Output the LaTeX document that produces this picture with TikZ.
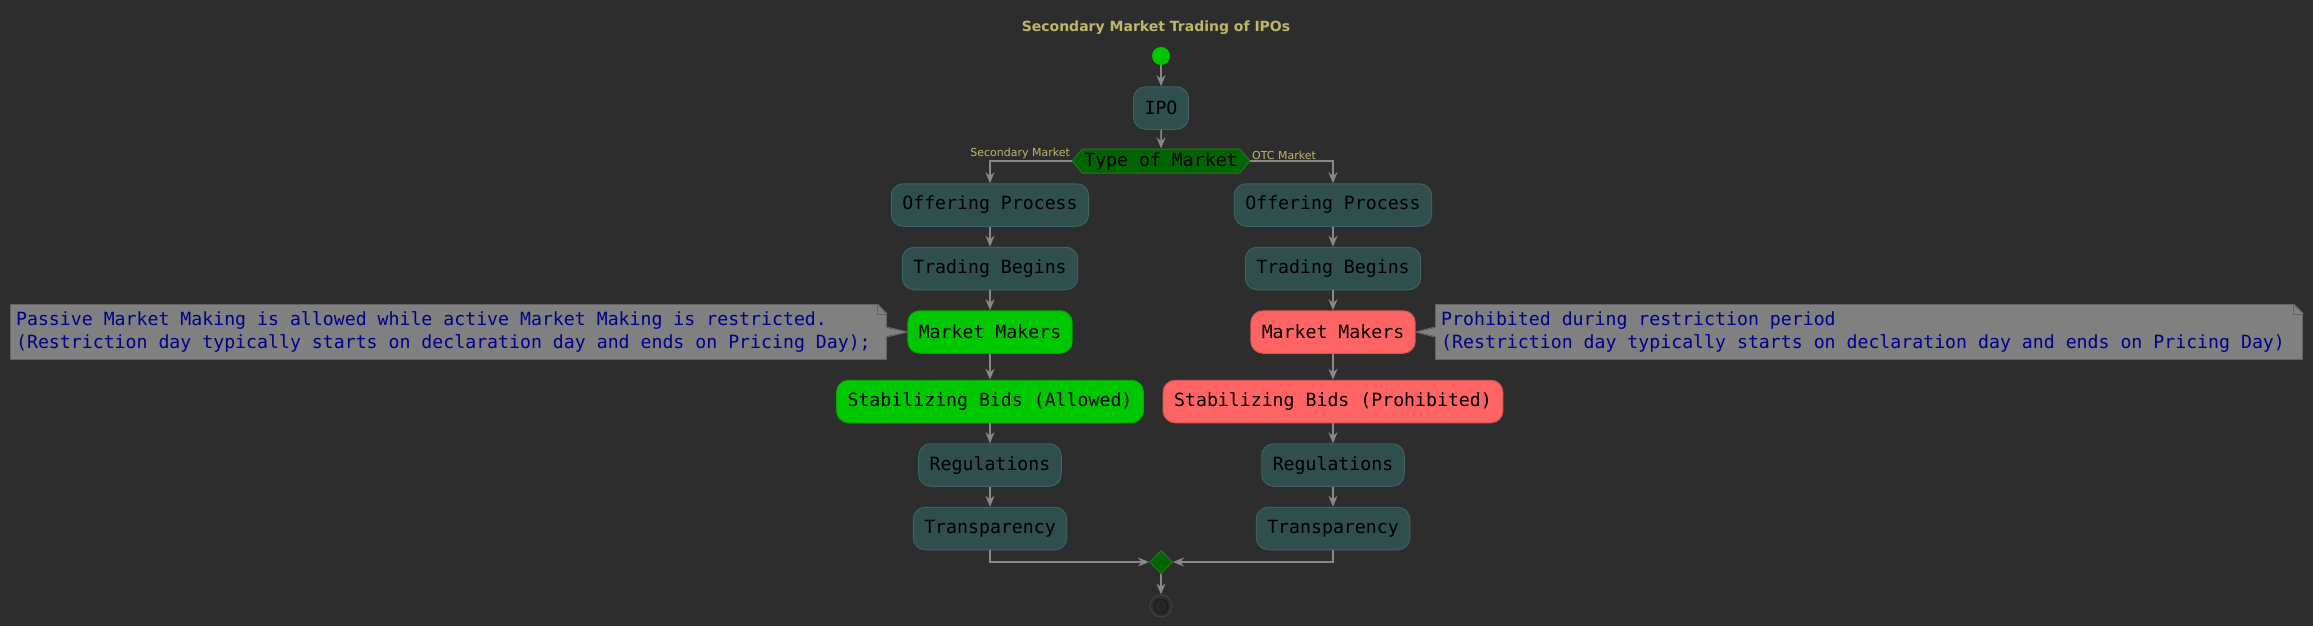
\documentclass[tikz,border=0pt]{standalone}
\usepackage{fontspec}
\setmainfont{DejaVu Sans}
\setsansfont{DejaVu Sans}
\setmonofont{DejaVu Sans Mono}[WordSpace={1,0,0}]
\usetikzlibrary{positioning,shapes.geometric,shapes.symbols,arrows.meta}

\definecolor{bg}{HTML}{2D2D2D}
\definecolor{slate}{HTML}{2F4F4F}
\definecolor{slateedge}{HTML}{3E6262}
\definecolor{okgreen}{HTML}{00C800}
\definecolor{badred}{HTML}{FF6464}
\definecolor{darkgr}{HTML}{006400}
\definecolor{darkgredge}{HTML}{1F7A1F}
\definecolor{flowgray}{HTML}{888888}
\definecolor{notegray}{HTML}{808080}
\definecolor{noteedge}{HTML}{636363}
\definecolor{khaki}{HTML}{BDB76B}
\definecolor{notetext}{HTML}{00008B}
\definecolor{ringedge}{HTML}{424242}
\definecolor{dotfill}{HTML}{262626}
\definecolor{dotedge}{HTML}{1A1A1A}

\newcommand{\monofnt}{\fontsize{18.2}{23}\selectfont\ttfamily}
% folded corner of a note
\newcommand{\dogear}[1]{%
  \fill[bg] ([xshift=-10pt,yshift=1pt]#1.north east) -- ([xshift=1pt,yshift=1pt]#1.north east) -- ([xshift=1pt,yshift=-10pt]#1.north east) -- cycle;
  \draw[noteedge, line width=1pt] ([xshift=-10pt]#1.north east) -- ([yshift=-10pt]#1.north east);
  \draw[noteedge, line width=1pt] ([xshift=-10pt]#1.north east) |- ([yshift=-10pt]#1.north east);
}

\begin{document}
\begin{tikzpicture}[x=1pt, y=1pt, node distance={20pt},
  act/.style = {draw=slateedge, fill=slate, line width=1pt, rounded corners=12pt, minimum height=42.5pt, inner xsep=11pt, font=\monofnt, text=black},
  okact/.style = {act, fill=okgreen, draw=okgreen!85!black},
  badact/.style = {act, fill=badred, draw=badred!85!black},
  hexa/.style = {signal, signal to=west and east, signal pointer angle=100, fill=darkgr, draw=darkgredge, line width=1pt, minimum height=24pt, inner xsep=2pt, inner ysep=0pt, font=\monofnt, text=black},
  note/.style = {fill=notegray, draw=noteedge, line width=1pt, align=left, inner xsep=6pt, inner ysep=7pt, font=\monofnt, text=notetext},
  lbl/.style = {font=\fontsize{11}{13}\selectfont\sffamily, text=khaki, inner sep=1pt},
  flow/.style = {draw=flowgray, line width=1.5pt, -{Stealth[length=11pt, width=9pt, inset=3.5pt]}}]

  \fill[bg] (0,0) rectangle (2313,-626);
  \useasboundingbox (0,0) rectangle (2313,-626);

  \node[font=\fontsize{14}{16}\selectfont\sffamily\bfseries, text=khaki] (ttl) at (1156,-28) {Secondary Market Trading of IPOs};
  \node[circle, fill=okgreen, minimum size=18pt, inner sep=0pt] (st) at (1161,-56) {};
  \node[act] (ipo) at (1161,-108) {IPO};
  \node[hexa] (kind) at (1161,-161) {Type of Market};
  \draw[flow] (st) -- (ipo);
  \draw[flow] (ipo) -- (kind);

  % secondary market branch
  \node[act] (offL) at (990,-205) {Offering Process};
  \node[act, below=of offL] (trL) {Trading Begins};
  \node[okact, below=of trL] (mmL) {Market Makers};
  \node[okact, below=26pt of mmL] (bidL) {Stabilizing Bids (Allowed)};
  \node[act, below=of bidL] (regL) {Regulations};
  \node[act, below=of regL] (trnL) {Transparency};
  \draw[flow] (kind.west) -| node[pos=0, lbl, anchor=south east] {Secondary Market} (offL.north);
  \draw[flow] (offL) -- (trL);
  \draw[flow] (trL) -- (mmL);
  \draw[flow] (mmL) -- (bidL);
  \draw[flow] (bidL) -- (regL);
  \draw[flow] (regL) -- (trnL);

  % OTC market branch
  \node[act] (offR) at (1333,-205) {Offering Process};
  \node[act, below=of offR] (trR) {Trading Begins};
  \node[badact, below=of trR] (mmR) {Market Makers};
  \node[badact, below=26pt of mmR] (bidR) {Stabilizing Bids (Prohibited)};
  \node[act, below=of bidR] (regR) {Regulations};
  \node[act, below=of regR] (trnR) {Transparency};
  \draw[flow] (kind.east) -| node[pos=0, lbl, anchor=south west] {OTC Market} (offR.north);
  \draw[flow] (offR) -- (trR);
  \draw[flow] (trR) -- (mmR);
  \draw[flow] (mmR) -- (bidR);
  \draw[flow] (bidR) -- (regR);
  \draw[flow] (regR) -- (trnR);

  % notes
  \node[note, left=20pt of mmL] (nL) {\ttfamily Passive Market Making is allowed while active Market Making is restricted.\\\ttfamily(Restriction day typically starts on declaration day and ends on Pricing Day);\hspace*{10pt}};
  \node[note, right=19pt of mmR] (nR) {\ttfamily Prohibited during restriction period\\\ttfamily(Restriction day typically starts on declaration day and ends on Pricing Day)\hspace*{12pt}};
  \dogear{nL}
  \dogear{nR}
  \draw[noteedge, line width=1pt] ([yshift=5pt]nL.east) -- (mmL.west) -- ([yshift=-5pt]nL.east);
  \fill[notegray] ([xshift=-1.5pt,yshift=4.5pt]nL.east) -- ([xshift=-1pt]mmL.west) -- ([xshift=-1.5pt,yshift=-4.5pt]nL.east) -- cycle;
  \draw[noteedge, line width=1pt] ([yshift=5pt]nR.west) -- (mmR.east) -- ([yshift=-5pt]nR.west);
  \fill[notegray] ([xshift=1.5pt,yshift=4.5pt]nR.west) -- ([xshift=1pt]mmR.east) -- ([xshift=1.5pt,yshift=-4.5pt]nR.west) -- cycle;

  % merge and end
  \node[diamond, fill=darkgr, draw=darkgredge, line width=1pt, minimum size=23pt, inner sep=0pt] (mrg) at (1161,-562) {};
  \node[circle, fill=bg, draw=ringedge, line width=1pt, minimum size=22pt, inner sep=0pt] (fin) at (1161,-606) {};
  \node[circle, fill=dotfill, draw=dotedge, line width=1pt, minimum size=14pt, inner sep=0pt] (finDot) at (fin) {};
  \draw[flow] (trnL.south) |- (mrg.west);
  \draw[flow] (trnR.south) |- (mrg.east);
  \draw[flow] (mrg) -- (fin);
\end{tikzpicture}
\end{document}
